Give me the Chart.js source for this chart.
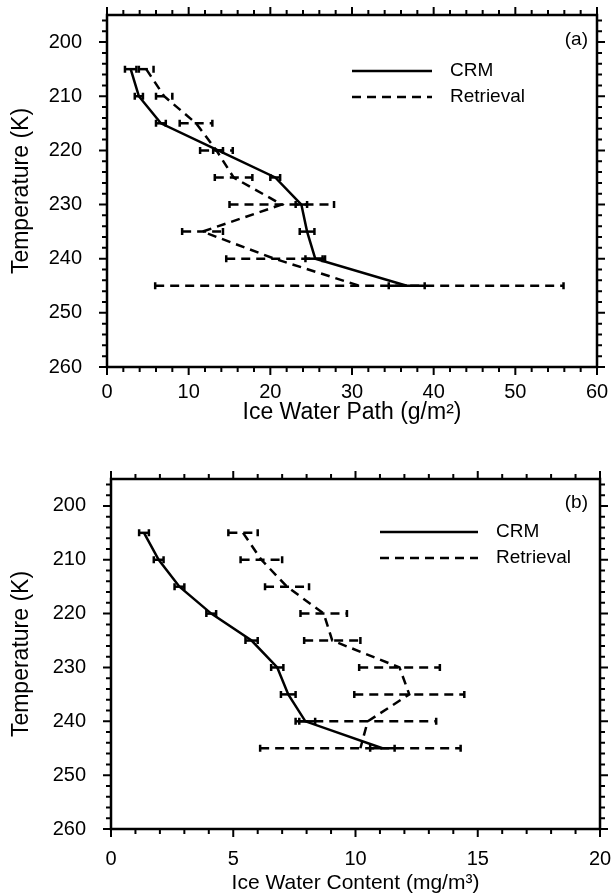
<!DOCTYPE html>
<html>
<head>
<meta charset="utf-8">
<script src="https://cdn.jsdelivr.net/npm/chart.js@4.4.1/dist/chart.umd.min.js"></script>
<style>
  html, body { margin: 0; padding: 0; background: #fff; }
  #wrap { position: relative; width: 614px; height: 896px; }
  canvas { position: absolute; left: 0; }
</style>
</head>
<body>
<div id="wrap">
  <canvas id="iwp" width="614" height="448" style="top:0"></canvas>
  <canvas id="iwc" width="614" height="448" style="top:448px"></canvas>
</div>
<script>
const temps = [205, 210, 215, 220, 225, 230, 235, 240, 245];
const tempTicks = [200, 210, 220, 230, 240, 250, 260];

// (a) ice water path, g/m2
const iwpCrm    = [2.9, 3.9, 6.6, 13.6, 20.6, 23.8, 24.5, 25.5, 36.7];
const iwpCrmErr = [0.7, 0.5, 0.6, 0.6, 0.6, 0.7, 0.9, 1.2, 2.2];
const iwpRet    = [4.8, 7.0, 10.9, 13.4, 15.5, 21.4, 11.7, 20.5, 30.9];
const iwpRetErr = [0.9, 1.0, 2.0, 2.0, 2.3, 6.4, 2.5, 5.9, 25.0];
const iwpTicks  = [0, 10, 20, 30, 40, 50, 60];

// (b) ice water content, mg/m3
const iwcCrm    = [1.35, 1.95, 2.8, 4.1, 5.75, 6.8, 7.25, 7.95, 11.1];
const iwcCrmErr = [0.2, 0.2, 0.2, 0.2, 0.25, 0.25, 0.3, 0.4, 0.5];
const iwcRet    = [5.4, 6.15, 7.2, 8.7, 9.05, 11.8, 12.2, 10.5, 10.2];
const iwcRetErr = [0.6, 0.85, 0.9, 0.95, 1.15, 1.65, 2.25, 2.8, 4.1];
const iwcTicks  = [0, 5, 10, 15, 20];

const FONT = "'Liberation Sans', Arial, Helvetica, sans-serif";

// horizontal error bars with end caps
const errorBars = {
  id: 'errorBars',
  afterDatasetsDraw(chart, args, opts) {
    const { ctx, scales: { x, y } } = chart;
    chart.data.datasets.forEach(ds => {
      if (!ds.errors) return;
      ctx.save();
      ctx.strokeStyle = '#000';
      ctx.lineWidth = ds.borderWidth;
      ds.data.forEach((p, j) => {
        const py = y.getPixelForValue(p.y);
        const x0 = x.getPixelForValue(p.x - ds.errors[j]);
        const x1 = x.getPixelForValue(p.x + ds.errors[j]);
        ctx.setLineDash(ds.borderDash || []);
        ctx.beginPath();
        ctx.moveTo(x0, py);
        ctx.lineTo(x1, py);
        ctx.stroke();
        ctx.setLineDash([]);
        ctx.beginPath();
        ctx.moveTo(x0, py - opts.cap); ctx.lineTo(x0, py + opts.cap);
        ctx.moveTo(x1, py - opts.cap); ctx.lineTo(x1, py + opts.cap);
        ctx.stroke();
      });
      ctx.restore();
    });
  }
};

// box frame with outward major/minor ticks on all four sides
const frameTicks = {
  id: 'frameTicks',
  afterDraw(chart, args, opts) {
    const { ctx, chartArea: a, scales: { x, y } } = chart;
    ctx.save();
    ctx.strokeStyle = '#000';
    ctx.lineWidth = 2.5;
    ctx.strokeRect(a.left, a.top, a.right - a.left, a.bottom - a.top);
    ctx.lineWidth = 2;
    ctx.beginPath();
    for (let v = x.min; v <= x.max + 1e-9; v += opts.xMinor) {
      const px = x.getPixelForValue(v);
      const len = Math.abs(v % opts.xMajor) < 1e-6 ? opts.major : opts.minor;
      ctx.moveTo(px, a.bottom); ctx.lineTo(px, a.bottom + len);
      ctx.moveTo(px, a.top); ctx.lineTo(px, a.top - len);
    }
    for (let v = Math.ceil(y.min / opts.yMinor) * opts.yMinor; v <= y.max + 1e-9; v += opts.yMinor) {
      const py = y.getPixelForValue(v);
      const len = Math.abs(v % opts.yMajor) < 1e-6 ? opts.major : opts.minor;
      ctx.moveTo(a.left, py); ctx.lineTo(a.left - len, py);
      ctx.moveTo(a.right, py); ctx.lineTo(a.right + len, py);
    }
    ctx.stroke();
    ctx.restore();
  }
};

// in-plot key and panel tag
const keyBox = {
  id: 'keyBox',
  afterDraw(chart, args, opts) {
    const { ctx } = chart;
    ctx.save();
    ctx.font = opts.font;
    ctx.fillStyle = '#000';
    ctx.strokeStyle = '#000';
    ctx.textBaseline = 'middle';
    chart.data.datasets.forEach((ds, i) => {
      const yy = opts.y + i * opts.gap;
      ctx.lineWidth = ds.borderWidth;
      ctx.setLineDash(ds.borderDash || []);
      ctx.beginPath();
      ctx.moveTo(opts.x, yy);
      ctx.lineTo(opts.x + opts.len, yy);
      ctx.stroke();
      ctx.textAlign = 'left';
      ctx.fillText(ds.label, opts.x + opts.len + opts.textGap, yy);
    });
    ctx.textAlign = 'right';
    ctx.fillText(opts.tag, opts.tagX, opts.tagY);
    ctx.restore();
  }
};

// fixed axis box sizes; edge labels must not push the plot area inward
function fixBox(prop, size) {
  return s => {
    s[prop] = size;
    s.paddingTop = s.paddingBottom = s.paddingLeft = s.paddingRight = 0;
  };
}

function panel(id, o) {
  const tickFont = { family: FONT, size: 20 };
  const titleFont = { family: FONT, size: 23 };
  return new Chart(document.getElementById(id), {
    type: 'scatter',
    data: {
      datasets: [
        {
          label: 'CRM',
          data: temps.map((t, i) => ({ x: o.crm[i], y: t })),
          errors: o.crmErr,
          showLine: true, borderColor: '#000', borderWidth: 2.5,
          pointRadius: 0, tension: 0
        },
        {
          label: 'Retrieval',
          data: temps.map((t, i) => ({ x: o.ret[i], y: t })),
          errors: o.retErr,
          showLine: true, borderColor: '#000', borderWidth: 2.5, borderDash: [9, 6],
          pointRadius: 0, tension: 0
        }
      ]
    },
    options: {
      responsive: false,
      animation: false,
      events: [],
      layout: { padding: o.pad },
      plugins: {
        legend: { display: false },
        tooltip: { enabled: false },
        errorBars: { cap: 3.5 },
        frameTicks: { xMinor: o.xMinor, xMajor: o.xMajor, yMinor: 2, yMajor: 10, major: 8, minor: 5 },
        keyBox: Object.assign({ font: '19px ' + FONT, gap: 26, textGap: 18 }, o.key)
      },
      scales: {
        x: {
          type: 'linear',
          min: o.xTicks[0],
          max: o.xTicks[o.xTicks.length - 1],
          grid: { display: false, drawTicks: false },
          border: { display: false },
          afterBuildTicks: s => { s.ticks = o.xTicks.map(v => ({ value: v })); },
          afterFit: fixBox('height', o.xH),
          ticks: { color: '#000', font: tickFont, padding: o.xLabelPad, maxRotation: 0, autoSkip: false },
          title: { display: true, text: o.xTitle, color: '#000', font: { family: FONT, size: o.xTitleSize }, padding: { top: 0, bottom: o.xTitlePad } }
        },
        y: {
          type: 'linear',
          reverse: true,
          min: 195,
          max: 260,
          grid: { display: false, drawTicks: false },
          border: { display: false },
          afterBuildTicks: s => { s.ticks = tempTicks.map(v => ({ value: v })); },
          afterFit: fixBox('width', o.yW),
          ticks: { color: '#000', font: tickFont, padding: 25, autoSkip: false },
          title: { display: true, text: 'Temperature (K)', color: '#000', font: titleFont, padding: { top: 8, bottom: 0 } }
        }
      }
    },
    plugins: [errorBars, frameTicks, keyBox]
  });
}

panel('iwp', {
  crm: iwpCrm, crmErr: iwpCrmErr, ret: iwpRet, retErr: iwpRetErr,
  xTicks: iwpTicks, xMinor: 2, xMajor: 10,
  xTitle: 'Ice Water Path (g/m\u00B2)', xTitleSize: 23,
  pad: { top: 15, right: 17, left: 0, bottom: 0 },
  yW: 107, xH: 81, xLabelPad: 13, xTitlePad: 22,
  key: { x: 352, y: 71, len: 80, tag: '(a)', tagX: 588, tagY: 40 }
});

panel('iwc', {
  crm: iwcCrm, crmErr: iwcCrmErr, ret: iwcRet, retErr: iwcRetErr,
  xTicks: iwcTicks, xMinor: 1, xMajor: 5,
  xTitle: 'Ice Water Content (mg/m\u00B3)', xTitleSize: 21,
  pad: { top: 31, right: 14, left: 0, bottom: 0 },
  yW: 111, xH: 67, xLabelPad: 18, xTitlePad: 0,
  key: { x: 380, y: 84, len: 98, tag: '(b)', tagX: 588, tagY: 55 }
});
</script>
</body>
</html>
